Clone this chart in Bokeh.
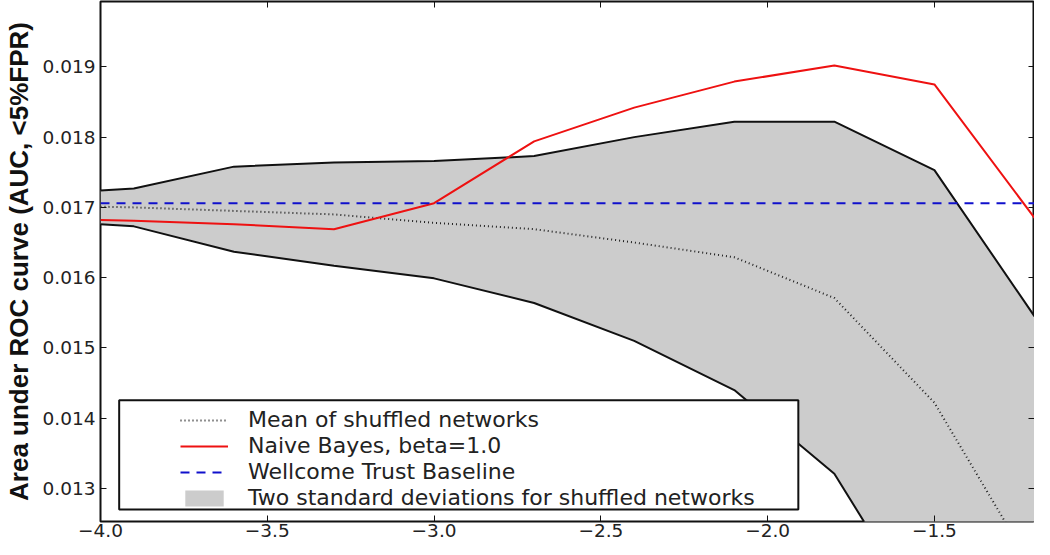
from bokeh.plotting import figure
from bokeh.models import (Range1d, FixedTicker, LinearAxis, Legend, LegendItem,
                          BoxAnnotation)
from bokeh.embed import file_html
from bokeh.resources import INLINE

# ---- data ----
log_x = [-4.0, -3.9, -3.6, -3.3, -3.0, -2.7, -2.4, -2.1, -1.8, -1.5, -1.2]
shuffled_mean = [0.01701, 0.01700, 0.01695, 0.01690, 0.01678, 0.01669,
                 0.01650, 0.01629, 0.01571, 0.01422, 0.01182]
shuffled_upper = [0.01724, 0.01727, 0.01758, 0.01764, 0.01766, 0.01773,
                  0.01800, 0.01822, 0.01822, 0.01753, 0.01545]
shuffled_lower = [0.01676, 0.01673, 0.01637, 0.01617, 0.01599, 0.01564,
                  0.01510, 0.01440, 0.01321, 0.01091, 0.00819]
naive_bayes = [0.01682, 0.01681, 0.01676, 0.01669, 0.01706, 0.01794,
               0.01842, 0.01879, 0.01902, 0.01875, 0.01685]
baseline_x = [-4.0, -1.2]
baseline_y = [0.01706, 0.01706]

x_ticks = [-4.0, -3.5, -3.0, -2.5, -2.0, -1.5]
x_tick_labels = ["\u22124.0", "\u22123.5", "\u22123.0", "\u22122.5", "\u22122.0", "\u22121.5"]
y_ticks = [0.013, 0.014, 0.015, 0.016, 0.017, 0.018, 0.019]
y_tick_labels = ["0.013", "0.014", "0.015", "0.016", "0.017", "0.018", "0.019"]

legend_labels = ["Mean of shuffled networks", "Naive Bayes, beta=1.0",
                 "Wellcome Trust Baseline",
                 "Two standard deviations for shuffled networks"]
y_label = "Area under ROC curve (AUC, <5%FPR)"

# ---- figure ----
p = figure(width=1034, height=539, output_backend="svg", toolbar_location=None,
           x_range=Range1d(-4.0, -1.2), y_range=Range1d(0.01253, 0.01993),
           min_border_left=100, min_border_right=0, min_border_top=1,
           min_border_bottom=0)
p.grid.visible = False
p.background_fill_color = "white"
p.border_fill_color = "white"
p.outline_line_color = "#111111"
p.outline_line_width = 2

TICK_FONT = "DejaVu Sans"

def style_axis(ax):
    ax.axis_line_color = None
    ax.major_tick_in = 6
    ax.major_tick_out = 0
    ax.major_tick_line_color = "#111111"
    ax.major_tick_line_width = 1
    ax.minor_tick_line_color = None
    ax.major_label_text_font = TICK_FONT
    ax.major_label_text_color = "#222222"
    ax.major_label_text_font_size = "18.5px"
    ax.major_label_standoff = 2

xa = p.xaxis[0]
xa.ticker = FixedTicker(ticks=x_ticks)
xa.major_label_overrides = dict(zip(x_ticks, x_tick_labels))
style_axis(xa)

ya = p.yaxis[0]
ya.ticker = FixedTicker(ticks=y_ticks)
ya.major_label_overrides = dict(zip(y_ticks, y_tick_labels))
style_axis(ya)
ya.major_label_standoff = 5
ya.axis_label = y_label
ya.axis_label_text_font = "Liberation Sans"
ya.axis_label_text_font_style = "bold"
ya.axis_label_text_font_size = "26px"
ya.axis_label_text_color = "#111111"
ya.axis_label_standoff = 6

# tick marks only (no labels) on the top and right edges of the frame
top_ax = LinearAxis(ticker=FixedTicker(ticks=x_ticks))
style_axis(top_ax)
top_ax.major_label_overrides = {t: "" for t in x_ticks}
top_ax.major_label_standoff = 0
p.add_layout(top_ax, "above")
right_ax = LinearAxis(ticker=FixedTicker(ticks=y_ticks))
style_axis(right_ax)
right_ax.major_label_overrides = {t: "" for t in y_ticks}
right_ax.major_label_standoff = 0
p.add_layout(right_ax, "right")

# ---- glyphs ----
band = p.varea(x=log_x, y1=shuffled_lower, y2=shuffled_upper,
               fill_color="#cccccc")
p.line(log_x, shuffled_upper, line_color="#111111", line_width=2)
p.line(log_x, shuffled_lower, line_color="#111111", line_width=2)
mean_r = p.line(log_x, shuffled_mean, line_color="#222222", line_width=2,
                line_dash="1 3")
nb_r = p.line(log_x, naive_bayes, line_color="#ee1111", line_width=2)
base_r = p.line(baseline_x, baseline_y, line_color="#1010cc", line_width=2,
                line_dash="9 7")

# ---- legend (box drawn as an annotation, then the items on top) ----
box = BoxAnnotation(left=-3.944, right=-1.908, bottom=0.012702, top=0.014256,
                    fill_color="white", fill_alpha=1.0,
                    line_color="#111111", line_width=2, line_alpha=1.0,
                    level="annotation")
p.add_layout(box)

legend = Legend(items=[
    LegendItem(label=legend_labels[0], renderers=[mean_r]),
    LegendItem(label=legend_labels[1], renderers=[nb_r]),
    LegendItem(label=legend_labels[2], renderers=[base_r]),
    LegendItem(label=legend_labels[3], renderers=[band]),
], location=(80, 11), margin=0, padding=0, spacing=1,
   glyph_width=48, glyph_height=20, label_height=20, label_standoff=20,
   label_text_font="DejaVu Sans", label_text_font_size="22px",
   label_text_color="#222222", label_text_baseline="middle",
   border_line_color=None, background_fill_alpha=0.0)
p.add_layout(legend)

open("out.html", "w").write(file_html(p, INLINE))
